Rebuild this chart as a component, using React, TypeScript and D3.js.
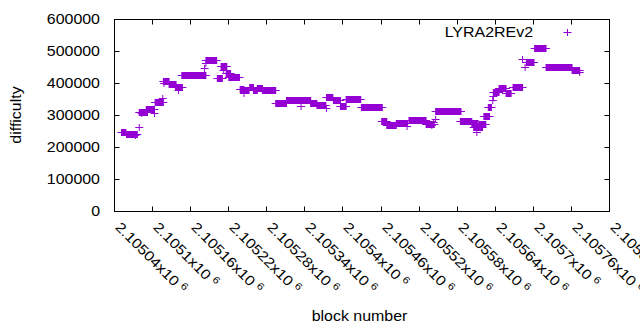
import React from 'react';
import * as d3 from 'd3';

// Runs of consecutive blocks sharing one difficulty value (single points have start === end)
const runStart = [
  2105051, 2105059, 2105073, 2105079, 2105079, 2105083, 2105090, 2105103, 2105104, 2105116,
  2105117, 2105118, 2105126, 2105136, 2105141, 2105146, 2105182, 2105184, 2105184, 2105202,
  2105208, 2105212, 2105216, 2105220, 2105238, 2105244, 2105244, 2105253, 2105259, 2105265,
  2105273, 2105294, 2105311, 2105334, 2105349, 2105359, 2105374, 2105374, 2105385, 2105396,
  2105405, 2105429, 2105461, 2105469, 2105484, 2105501, 2105504, 2105531, 2105540, 2105543,
  2105546, 2105546, 2105585, 2105603, 2105606, 2105611, 2105615, 2105622, 2105629, 2105636,
  2105637, 2105637, 2105646, 2105657, 2105668, 2105683, 2105687, 2105689, 2105702, 2105720,
  2105761, 2105773,
];
const runEnd = [
  2105058, 2105076, 2105073, 2105079, 2105092, 2105083, 2105103, 2105103, 2105117, 2105116,
  2105126, 2105118, 2105137, 2105147, 2105141, 2105184, 2105182, 2105184, 2105201, 2105210,
  2105217, 2105212, 2105223, 2105237, 2105244, 2105244, 2105252, 2105259, 2105265, 2105273,
  2105294, 2105311, 2105349, 2105334, 2105359, 2105373, 2105374, 2105384, 2105396, 2105405,
  2105428, 2105462, 2105469, 2105484, 2105502, 2105501, 2105531, 2105544, 2105540, 2105543,
  2105546, 2105586, 2105603, 2105613, 2105620, 2105611, 2105625, 2105631, 2105634, 2105636,
  2105637, 2105646, 2105657, 2105665, 2105683, 2105683, 2105687, 2105701, 2105720, 2105761,
  2105773, 2105773,
];
const runDifficulty = [
  248000, 242000, 237000, 264000, 310000, 305000, 320000, 305000, 340000, 352000,
  407000, 399000, 397000, 388000, 378000, 425000, 446000, 461000, 473000, 415000,
  454000, 441000, 431000, 419000, 381000, 368000, 378000, 386000, 378000, 383000,
  377000, 337000, 346000, 328000, 337000, 332000, 321000, 355000, 346000, 327000,
  349000, 324000, 281000, 270000, 274000, 265000, 283000, 273000, 270000, 279000,
  288000, 314000, 282000, 275000, 264000, 248000, 273000, 297000, 326000, 347000,
  359000, 372000, 383000, 369000, 389000, 474000, 451000, 465000, 508000, 449000,
  440000, 435000,
];

const xTicks = [
  2105040, 2105100, 2105160, 2105220, 2105280, 2105340, 2105400,
  2105460, 2105520, 2105580, 2105640, 2105700, 2105760, 2105820,
];
const xTickLabels = [
  '2.10504', '2.1051', '2.10516', '2.10522', '2.10528', '2.10534', '2.1054',
  '2.10546', '2.10552', '2.10558', '2.10564', '2.1057', '2.10576', '2.10582',
];
const yTicks = [0, 100000, 200000, 300000, 400000, 500000, 600000];
const seriesName = 'LYRA2REv2';
const xTitle = 'block number';
const yTitle = 'difficulty';

const COLOR = '#9400d3';
const FONT = "'Liberation Sans', Arial, sans-serif";
const FS = 14;
const STRETCH = 1.14;

function Txt({ x, y, rot = 0, anchor = 'start', children }: any) {
  return (
    <text
      transform={`translate(${x},${y}) rotate(${rot}) scale(${STRETCH},1)`}
      textAnchor={anchor}
      fontFamily={FONT}
      fontSize={FS}
      fill="#000"
    >
      {children}
    </text>
  );
}

export default function App() {
  const W = 640, H = 330;
  const L = 114.5, R = 609.5, T = 19.5, B = 211.5;
  const x = d3.scaleLinear().domain([xTicks[0], xTicks[xTicks.length - 1]]).range([L, R]);
  const y = d3.scaleLinear().domain([0, 600000]).range([B, T]);
  const tk = 5;
  const arm = 4;
  const half = 3.5;

  const runs = runStart.map((s, i) => ({ s, e: runEnd[i], v: runDifficulty[i] }));

  return (
    <svg width={W} height={H} style={{ position: 'absolute', left: 0, top: 0, background: '#fff' }}>
      <rect x={0} y={0} width={W} height={H} fill="#fff" />
      {/* ticks */}
      {yTicks.map((t) => {
        const yy = Math.round(y(t) - 0.5) + 0.5;
        return (
          <g key={'y' + t}>
            <line x1={L} x2={L + tk} y1={yy} y2={yy} stroke="#000" />
            <line x1={R} x2={R - tk} y1={yy} y2={yy} stroke="#000" />
            <Txt x={100} y={yy + 4.5} anchor="end">{String(t)}</Txt>
          </g>
        );
      })}
      {xTicks.map((t, i) => {
        const xx = Math.round(x(t) - 0.5) + 0.5;
        return (
          <g key={'x' + t}>
            <line x1={xx} x2={xx} y1={B} y2={B - tk} stroke="#000" />
            <line x1={xx} x2={xx} y1={T} y2={T + tk} stroke="#000" />
            <Txt x={xx} y={228} rot={45}>
              {xTickLabels[i] + 'x10 '}
              <tspan fontSize={10} dy={-5}>6</tspan>
            </Txt>
          </g>
        );
      })}
      <rect x={L} y={T} width={R - L} height={B - T} fill="none" stroke="#000" />
      {/* data */}
      <g fill={COLOR} stroke={COLOR}>
        {runs.map((r, i) => {
          const x0 = x(r.s), x1 = x(r.e);
          const yy = Math.round(y(r.v) - 0.5) + 0.5;
          return (
            <g key={i}>
              <line x1={x0 - arm} x2={x1 + arm} y1={yy} y2={yy} strokeWidth={1} />
              <rect x={x0 - 0.5} y={yy - half} width={x1 - x0 + 1} height={half * 2} stroke="none" />
            </g>
          );
        })}
      </g>
      {/* legend */}
      <Txt x={533} y={37} anchor="end">{seriesName}</Txt>
      <g stroke={COLOR}>
        <line x1={567.5 - arm} x2={567.5 + arm} y1={32.5} y2={32.5} />
        <line x1={567.5} x2={567.5} y1={32.5 - half} y2={32.5 + half} />
      </g>
      {/* titles */}
      <Txt x={359.5} y={321} anchor="middle">{xTitle}</Txt>
      <Txt x={21} y={115} rot={-90} anchor="middle">{yTitle}</Txt>
    </svg>
  );
}
